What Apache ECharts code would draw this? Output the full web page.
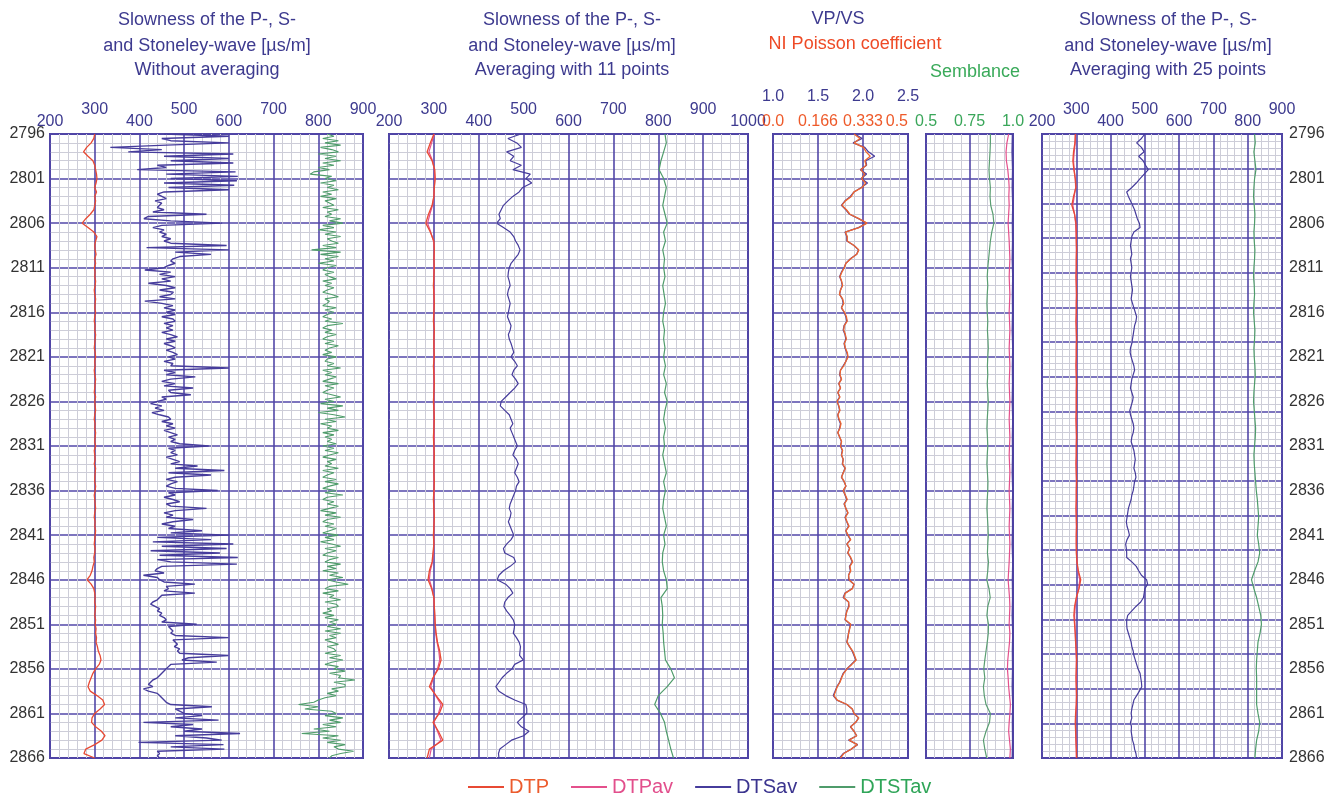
<!DOCTYPE html>
<html>
<head>
<meta charset="utf-8">
<script src="https://cdn.jsdelivr.net/npm/echarts/dist/echarts.min.js"></script>
<style>
html,body{margin:0;padding:0;background:#fff;}
#chart{width:1340px;height:794px;}
</style>
</head>
<body>
<div id="chart"></div>
<script>
// ---------------- DATA ----------------
const depthMin = 2796, depthMax = 2866;

// tick labels
const slowTicksLow1 = [200, 400, 600, 800];
const slowTicksHigh1 = [300, 500, 700, 900];
const slowTicksLow2 = [200, 400, 600, 800, 1000];
const slowTicksHigh2 = [300, 500, 700, 900];
const vpvsTicks = ['1.0', '1.5', '2.0', '2.5'];
const poissonTicks = ['0.0', '0.166', '0.333', '0.5'];
const sembTicks = ['0.5', '0.75', '1.0'];

// Panel 1 (without averaging) - DTP raw, step 0.5 m
const p1DTP = [
300,298, 292,282, 275,285, 296,300, 302,304, 305,303, 300,304, 300,302, 300,298, 290,280,
272,285, 298,305, 302,300, 301,303, 300,302, 299,301, 300,302, 301,299, 300,302, 301,300,
302,300, 299,301, 300,302, 301,300, 299,301, 302,300, 301,299, 300,302, 301,300, 299,302,
300,301, 302,300, 299,301, 300,302, 301,300, 302,299, 300,301, 299,302, 301,300, 300,302,
301,299, 300,301, 302,300, 299,301, 300,302, 301,300, 299,301, 300,298, 299,296, 294,290,
283,292, 298,300, 301,300, 302,301, 300,302, 301,303, 302,304, 303,306, 308,312, 314,310,
302,296, 292,288, 285,290, 305,318, 322,312, 300,294, 293,302, 315,323, 316,300, 280,276,
300
];

// Panel 1 - DTS raw, step 0.25 m
const p1DTS = [
455,600,450,470, 600,460,335,450, 375,610,455,600, 470,610,440,460, 395,615,460,620,
470,618,455,612, 465,600,455,440, 450,460,435,450, 445,440,455,430, 550,420,410,470,
585,450,430,455, 445,460,450,470, 455,470,595,416, 600,480,560,490, 475,470,480,465,
455,412,470,445, 480,450,470,420, 460,480,445,476, 470,445,480,412, 450,475,455,480,
460,480,450,475, 480,455,475,460, 475,450,470,485, 460,480,455,470, 480,460,475,485,
465,480,455,475, 470,600,455,480, 460,525,470,450, 480,455,520,465, 470,515,450,460,
440,425,450,435, 455,428,445,465, 470,450,475,460, 480,455,470,485, 465,480,470,490,
555,465,480,470, 485,460,475,490, 470,530,480,590, 465,560,480,460, 485,470,460,480,
575,465,480,455, 475,490,460,470, 550,480,455,475, 460,520,475,450, 480,465,540,470,
600,440,560,430, 610,450,595,425, 580,445,620,440, 470,618,450,440, 435,455,409,440,
445,455,524,460, 465,455,524,450, 445,440,430,425, 435,445,440,450, 445,455,460,450,
528,465,470,475, 470,480,599,475, 480,485,478,490, 485,490,599,510, 495,573,470,465,
460,455,450,445, 440,430,425,420, 430,409,420,440, 445,450,455,460, 470,562,480,490,
500,540,480,577, 409,520,470,540, 500,625,480,550, 584,398,588,470, 590,440,445,440,
445
];

// Panel 1 - Stoneley raw, step 0.25 m
const p1DTST = [
820,835,810,845, 815,850,805,830, 845,800,840,815, 850,810,835,800, 825,790,782,830,
815,840,805,835, 820,845,810,830, 805,840,815,825, 835,810,845,820, 830,815,850,825,
855,810,835,800, 840,815,850,820, 830,845,810,840, 785,850,805,845, 815,835,800,840,
820,810,835,815, 825,840,810,830, 815,835,820,810, 830,845,815,825, 820,810,840,815,
835,820,810,830, 815,855,820,810, 830,815,840,820, 810,835,815,845, 825,815,830,810,
840,820,815,835, 820,850,810,830, 815,840,825,810, 845,815,835,820, 810,830,850,815,
835,805,855,820, 845,800,835,860, 815,840,805,830, 820,845,810,835, 815,830,820,840,
810,835,815,845, 825,810,840,820, 830,815,845,810, 835,820,810,840, 815,845,825,810,
840,815,855,820, 810,835,820,845, 825,805,840,815, 850,820,810,835, 815,840,825,810,
845,815,835,805, 830,850,815,840, 820,810,845,825, 815,850,820,840, 810,845,825,855,
820,840,867,825, 815,845,810,835, 825,850,815,840, 845,820,830,810, 835,815,845,825,
840,820,850,815, 850,825,840,815, 830,845,820,835, 840,815,850,825, 855,830,815,845,
835,860,825,850, 845,882,835,860, 860,830,845,820, 840,815,800,790, 756,800,770,830,
840,815,855,825, 850,810,840,790, 825,763,845,810, 850,820,860,835, 845,879,850,830,
825
];

// Panel 2 (averaging with 11 points)
const p2DTP = [ // step 1 m
300,292,285,296,302,303,301,300,296,288,
282,292,300,301,300,301,300,299,300,301,
300,299,301,300,300,301,299,300,301,300,
299,300,301,300,299,300,301,300,300,301,
300,299,300,301,300,299,300,298,296,290,
287,295,300,301,302,303,305,308,313,316,
310,298,290,305,320,312,298,310,320,290,
285
];
const p2DTPav = [ // step 1 m
301,295,289,297,301,302,301,300,297,291,
286,293,299,301,301,300,300,300,301,300,
300,300,301,300,301,300,300,301,300,300,
300,301,300,300,301,300,300,301,300,300,
301,300,300,301,300,300,300,299,297,292,
290,296,300,301,302,303,304,307,311,313,
308,299,293,304,316,310,300,308,316,294,
290
];
const p2DTSav = [ // step 0.5 m
494,465, 485,495, 462,478, 470,495, 476,515, 505,518, 498,490, 476,465, 455,450, 445,448,
440,455, 470,478, 482,488, 492,488, 480,472, 468,466, 465,468, 470,466, 464,467, 470,468,
466,464, 468,472, 470,466, 468,472, 475,478, 472,480, 486,478, 474,482, 488,480, 470,460,
450,448, 458,468, 472,476, 470,474, 478,482, 486,480, 476,484, 488,484, 480,486, 490,484,
482,478, 474,470, 468,472, 470,466, 470,474, 478,472, 462,455, 458,478, 482,470, 455,445,
441,460, 470,476, 465,458, 456,462, 470,477, 480,479, 477,484, 490,493, 492,491, 499,480,
474,462, 452,445, 438,445, 460,480, 505,507, 507,496, 486,495, 512,500, 473,460, 447,444,
445
];
const p2DTSTav = [ // step 1 m
815,818,812,806,802,812,818,814,810,815,
820,812,816,810,814,812,815,810,813,816,
812,810,814,812,815,812,816,812,818,814,
820,815,812,816,812,814,810,814,818,812,
816,812,810,814,818,812,815,810,809,812,
818,820,806,809,810,809,811,812,814,816,
828,836,820,800,792,805,814,818,823,828,
834
];

// Panel 3 - VP/VS and Poisson coefficient, step 0.5 m
const vpvs = [
1.91,1.99, 1.89,2.02, 2.06,2.13, 2.03,2.04, 1.97,2.04, 1.98,2.05, 1.98,1.90, 1.86,1.80, 1.76,1.81, 1.85,1.95,
2.04,1.95, 1.80,1.82, 1.82,1.90, 1.95,1.93, 1.86,1.81, 1.79,1.76, 1.74,1.76, 1.77,1.75, 1.74,1.77, 1.78,1.76,
1.79,1.81, 1.82,1.79, 1.78,1.80, 1.81,1.79, 1.80,1.82, 1.83,1.81, 1.78,1.75, 1.74,1.76, 1.73,1.75, 1.72,1.74,
1.71,1.73, 1.74,1.72, 1.73,1.75, 1.74,1.72, 1.74,1.76, 1.75,1.77, 1.76,1.78, 1.77,1.80, 1.78,1.76, 1.79,1.81,
1.78,1.80, 1.82,1.79, 1.81,1.83, 1.80,1.82, 1.84,1.81, 1.83,1.86, 1.82,1.85, 1.83,1.86, 1.88,1.85, 1.86,1.84,
1.84,1.90, 1.88,1.80, 1.78,1.84, 1.84,1.82, 1.81,1.80, 1.86,1.85, 1.84,1.83, 1.82,1.85, 1.88,1.90, 1.92,1.87,
1.82,1.78, 1.76,1.74, 1.71,1.69, 1.67,1.71, 1.82,1.88, 1.90,1.95, 1.92,1.86, 1.90,1.93, 1.84,1.94, 1.87,1.78,
1.74
];
const poisson = [
0.300,0.322, 0.300,0.335, 0.345,0.360, 0.340,0.345, 0.325,0.340, 0.328,0.343, 0.330,0.300, 0.290,0.268, 0.255,0.272, 0.285,0.318,
0.348,0.318, 0.268,0.275, 0.275,0.300, 0.318,0.310, 0.288,0.270, 0.264,0.255, 0.248,0.254, 0.258,0.250, 0.246,0.258, 0.262,0.254,
0.265,0.272, 0.275,0.264, 0.262,0.268, 0.272,0.264, 0.268,0.275, 0.278,0.270, 0.262,0.250, 0.248,0.254, 0.244,0.250, 0.240,0.248,
0.238,0.244, 0.248,0.240, 0.245,0.252, 0.248,0.240, 0.247,0.254, 0.250,0.258, 0.254,0.260, 0.258,0.268, 0.260,0.254, 0.264,0.270,
0.260,0.268, 0.275,0.264, 0.270,0.278, 0.268,0.274, 0.282,0.270, 0.278,0.288, 0.274,0.284, 0.277,0.288, 0.295,0.285, 0.288,0.280,
0.282,0.300, 0.294,0.268, 0.262,0.280, 0.282,0.274, 0.270,0.268, 0.288,0.284, 0.280,0.278, 0.274,0.284, 0.295,0.302, 0.308,0.292,
0.274,0.262, 0.254,0.248, 0.238,0.232, 0.226,0.238, 0.274,0.294, 0.300,0.318, 0.306,0.288, 0.300,0.310, 0.282,0.312, 0.290,0.262,
0.250
];

// Panel 4 - Semblance, step 1 m (last one step 2 m)
const sembST = [
0.870,0.870,0.868,0.865,0.862,0.865,0.870,0.868,0.872,0.885,
0.890,0.878,0.870,0.865,0.860,0.855,0.852,0.855,0.852,0.850,
0.852,0.855,0.853,0.856,0.858,0.855,0.853,0.855,0.852,0.855,
0.858,0.855,0.852,0.850,0.853,0.855,0.852,0.850,0.853,0.856,
0.855,0.852,0.850,0.853,0.856,0.858,0.855,0.853,0.859,0.855,
0.849,0.862,0.869,0.855,0.850,0.859,0.858,0.852,0.845,0.838,
0.832,0.838,0.830,0.835,0.845,0.870,0.865,0.845,0.830,0.838,
0.849
];
const sembP = [
0.975,0.965,0.960,0.962,0.970,0.975,0.978,0.976,0.978,0.975,
0.972,0.975,0.978,0.980,0.982,0.980,0.978,0.980,0.982,0.980,
0.978,0.980,0.982,0.980,0.978,0.980,0.982,0.980,0.978,0.980,
0.982,0.980,0.978,0.980,0.982,0.980,0.978,0.980,0.982,0.980,
0.978,0.980,0.982,0.980,0.978,0.980,0.982,0.980,0.978,0.975,
0.972,0.976,0.980,0.982,0.980,0.978,0.982,0.980,0.975,0.970,
0.968,0.972,0.975,0.980,0.985,0.982,0.978,0.975,0.980,0.985,
0.982
];
const sembS = [ // step 2 m
0.997,0.995,0.998,0.996,0.999,0.997,0.998,0.996,0.999,0.997,
0.998,0.996,0.999,0.997,0.998,0.996,0.999,0.997,0.998,0.996,
0.999,0.997,0.998,0.996,0.999,0.997,0.998,0.996,0.999,0.997,
0.998,0.996,0.999,0.997,0.998,0.996
];

// Panel 5 (averaging with 25 points)
const p5DTP = [ // step 1 m
297,296,292,290,293,297,299,292,287,295,
299,300,300,301,300,300,299,300,301,300,
300,299,300,301,300,300,299,300,301,300,
300,300,299,300,301,300,300,299,300,301,
300,300,299,300,301,300,300,300,302,306,
313,308,300,295,293,295,297,298,300,301,
300,299,300,301,300,298,297,298,299,300,
301
];
const p5DTPav = [ // step 1 m
298,297,294,292,294,297,298,294,290,295,
298,299,300,300,300,300,300,300,300,300,
300,300,300,300,300,300,300,300,300,300,
300,300,300,300,300,300,300,300,300,300,
300,300,300,300,300,300,300,301,302,305,
310,307,301,297,295,296,297,298,299,300,
300,300,300,300,300,299,298,298,299,300,
300
];
const p5DTSav = [ // step 0.5 m
500,490, 476,490, 498,482, 495,502, 510,498, 486,475, 462,447, 452,458, 464,470, 474,478,
484,486, 468,462, 460,458, 460,462, 458,460, 462,460, 458,460, 462,464, 462,460, 464,468,
472,476, 474,470, 468,466, 464,462, 458,457, 460,464, 468,470, 466,462, 460,458, 462,466,
464,460, 456,458, 462,466, 468,466, 462,460, 464,468, 470,472, 470,468, 472,474, 470,468,
466,462, 460,456, 452,450, 448,446, 448,452, 455,448, 444,446, 447,447, 462,475, 482,490,
505,508, 500,498, 496,488, 474,462, 450,447, 447,448, 452,456, 460,462, 466,468, 472,476,
480,486, 488,490, 491,484, 476,468, 465,462, 460,462, 458,461, 460,462, 464,468, 470,474,
476
];
const p5DTSTav = [ // step 1 m
820,822,818,821,824,820,818,817,819,821,
820,818,819,821,820,818,817,819,820,818,
817,819,821,820,818,819,821,822,820,818,
817,819,821,823,822,820,818,819,821,823,
825,828,830,832,830,828,832,835,830,820,
811,818,826,832,838,840,836,830,828,826,
825,826,826,826,826,830,835,832,826,823,
821
];

// ---------------- STYLE ----------------
const FONT = '"Liberation Sans", Arial, sans-serif';
const BLUE_TXT = '#3d3a8f';
const MAJOR = '#5247a8';
const MINOR = '#cdcdd8';
const BORDER = '#4b40a0';
const C_DTP = '#e84a34', C_DTPAV = '#e4508c', C_DTS = '#463c9c', C_DTST = '#4f9c6b';
const C_VPVS = '#4a3fa0', C_POIS = '#f0662e', C_SEMB = '#5a9e72';

function pts(values, step) {
  return values.map((v, i) => [v, depthMin + i * step]);
}
function lookupFmt(pairs) {
  return function (v) {
    for (const p of pairs) { if (Math.abs(p[0] - v) < 1e-6) return p[1]; }
    return '';
  };
}
function xAxisDef(gridIndex, min, max, interval, pairs, color, offset, lines, extra) {
  return Object.assign({
    type: 'value', gridIndex, min, max, interval, position: 'top', offset,
    axisLine: { show: false }, axisTick: { show: false },
    axisLabel: { show: true, margin: 4, color, fontSize: 16, fontFamily: FONT, formatter: lookupFmt(pairs) },
    splitLine: { show: lines, lineStyle: { color: MAJOR, width: 1.6 } },
    minorTick: { show: false, splitNumber: 5 },
    minorSplitLine: { show: lines, lineStyle: { color: MINOR, width: 1 } }
  }, extra || {});
}
function depthAxis(gridIndex, labelPos) {
  return {
    type: 'value', gridIndex, min: depthMin, max: depthMax, interval: 5, inverse: true,
    position: labelPos || 'left',
    axisLine: { show: false }, axisTick: { show: false },
    axisLabel: { show: !!labelPos, margin: labelPos === 'right' ? 7 : 5, color: '#333', fontSize: 16, fontFamily: FONT,
      formatter: v => String(v) },
    splitLine: { show: labelPos !== 'right', lineStyle: { color: MAJOR, width: 1.6 } },
    minorTick: { show: false, splitNumber: 5 },
    minorSplitLine: { show: labelPos !== 'right', lineStyle: { color: MINOR, width: 1 } }
  };
}
const lowPairs1 = slowTicksLow1.map(v => [v, String(v)]);
const highPairs1 = slowTicksHigh1.map(v => [v, String(v)]);
const lowPairs2 = slowTicksLow2.map(v => [v, String(v)]);
const highPairs2 = slowTicksHigh2.map(v => [v, String(v)]);
const vpvsPairs = vpvsTicks.map((t, i) => [1 + 0.5 * i, t]);
const poisPairs = poissonTicks.map((t, i) => [i, t]);
const sembPairs = sembTicks.map((t, i) => [0.5 + 0.25 * i, t]);

function line(name, data, xi, yi, color, width, z) {
  return {
    type: 'line', name, data, xAxisIndex: xi, yAxisIndex: yi, color,
    showSymbol: false, symbol: 'none', silent: true, z: z || 2,
    lineStyle: { color, width: width || 1.2 }
  };
}

const gridBase = { show: true, borderColor: BORDER, borderWidth: 2, backgroundColor: '#fff', containLabel: false };

const titleColor = BLUE_TXT;
function txt(text, x, y, color, size) {
  return { type: 'text', x, y, silent: true,
    style: { text, fill: color, font: (size || 18) + 'px ' + FONT, textAlign: 'center', textVerticalAlign: 'middle' } };
}

const option = {
  animation: false,
  backgroundColor: '#fff',
  grid: [
    Object.assign({ left: 50, top: 134, width: 313, height: 624 }, gridBase),
    Object.assign({ left: 389, top: 134, width: 359, height: 624 }, gridBase),
    Object.assign({ left: 773, top: 134, width: 135, height: 624 }, gridBase),
    Object.assign({ left: 926, top: 134, width: 87, height: 624 }, gridBase),
    Object.assign({ left: 1042, top: 134, width: 240, height: 624 }, gridBase)
  ],
  xAxis: [
    xAxisDef(0, 200, 900, 100, lowPairs1, BLUE_TXT, 0, true),               // 0
    xAxisDef(0, 200, 900, 100, highPairs1, BLUE_TXT, 12, false),            // 1
    xAxisDef(1, 200, 1000, 100, lowPairs2, BLUE_TXT, 0, true),              // 2
    xAxisDef(1, 200, 1000, 100, highPairs2, BLUE_TXT, 12, false),           // 3
    xAxisDef(2, 1, 2.5, 0.5, vpvsPairs, BLUE_TXT, 25, true),                // 4
    xAxisDef(2, 0, 3, 1, poisPairs, '#ee5a2a', 0, false,
      { axisLabel: { show: true, margin: 4, color: '#ee5a2a', fontSize: 16, fontFamily: FONT, formatter: lookupFmt(poisPairs), alignMaxLabel: 'right' } }), // 5
    { type: 'value', gridIndex: 2, min: 0, max: 0.5, show: false },        // 6 poisson data axis
    xAxisDef(3, 0.5, 1.0, 0.25, sembPairs, '#3aa65a', 0, true),             // 7
    xAxisDef(4, 200, 900, 100, lowPairs1, BLUE_TXT, 0, true),               // 8
    xAxisDef(4, 200, 900, 100, highPairs1, BLUE_TXT, 12, false)             // 9
  ],
  yAxis: [
    depthAxis(0, 'left'),
    depthAxis(1),
    depthAxis(2),
    depthAxis(3),
    depthAxis(4, 'right'),
    { type: 'value', gridIndex: 4, min: 0, max: 18, interval: 1, inverse: true, position: 'left',
      axisLine: { show: false }, axisTick: { show: false }, axisLabel: { show: false },
      splitLine: { show: true, lineStyle: { color: MAJOR, width: 1.6 } },
      minorTick: { show: false, splitNumber: 5 },
      minorSplitLine: { show: true, lineStyle: { color: MINOR, width: 1 } } }
  ],
  legend: {
    left: 463, top: 772, itemWidth: 36, itemHeight: 2, itemGap: 22, icon: 'rect',
    textStyle: { fontSize: 20, fontFamily: FONT },
    data: [
      { name: 'DTP', textStyle: { color: '#ec5b2d' } },
      { name: 'DTPav', textStyle: { color: '#e24f8c' } },
      { name: 'DTSav', textStyle: { color: '#3b348f' } },
      { name: 'DTSTav', textStyle: { color: '#2fa558' } }
    ]
  },
  graphic: [
    txt('Slowness of the P-, S-', 207, 20, titleColor),
    txt('and Stoneley-wave [\u00b5s/m]', 207, 46, titleColor),
    txt('Without averaging', 207, 70, titleColor),
    txt('Slowness of the P-, S-', 572, 20, titleColor),
    txt('and Stoneley-wave [\u00b5s/m]', 572, 46, titleColor),
    txt('Averaging with 11 points', 572, 70, titleColor),
    txt('VP/VS', 838, 19, titleColor),
    txt('NI Poisson coefficient', 855, 44, '#ee4a26'),
    txt('Semblance', 975, 72, '#3aaa5a'),
    txt('Slowness of the P-, S-', 1168, 20, titleColor),
    txt('and Stoneley-wave [\u00b5s/m]', 1168, 46, titleColor),
    txt('Averaging with 25 points', 1168, 70, titleColor)
  ],
  series: [
    // panel 1
    line('DTST', pts(p1DTST, 0.25), 0, 0, C_DTST, 1.1),
    line('DTS', pts(p1DTS, 0.25), 0, 0, C_DTS, 1.4),
    line('DTP', pts(p1DTP, 0.5), 0, 0, C_DTP, 1.3),
    // panel 2
    line('DTSTav', pts(p2DTSTav, 1), 2, 1, C_DTST, 1.2),
    line('DTSav', pts(p2DTSav, 0.5), 2, 1, C_DTS, 1.2),
    line('DTPav', pts(p2DTPav, 1), 2, 1, C_DTPAV, 1.2),
    line('DTP', pts(p2DTP, 1), 2, 1, C_DTP, 1.3),
    // panel 3
    line('VP/VS', pts(vpvs, 0.5), 4, 2, C_VPVS, 1.3),
    line('Poisson', pts(poisson, 0.5), 6, 2, C_POIS, 1.3),
    // panel 4
    line('Semblance ST', pts(sembST, 1), 7, 3, C_SEMB, 1.2),
    line('Semblance P', pts(sembP, 1), 7, 3, C_DTPAV, 1.2),
    line('Semblance S', pts(sembS, 2), 7, 3, C_VPVS, 1.5),
    // panel 5
    line('DTSTav', pts(p5DTSTav, 1), 8, 4, C_DTST, 1.2),
    line('DTSav', pts(p5DTSav, 0.5), 8, 4, C_DTS, 1.2),
    line('DTPav', pts(p5DTPav, 1), 8, 4, C_DTPAV, 1.2),
    line('DTP', pts(p5DTP, 1), 8, 4, C_DTP, 1.3)
  ]
};

const chart = echarts.init(document.getElementById('chart'), null, { renderer: 'canvas' });
chart.setOption(option);
</script>
</body>
</html>
